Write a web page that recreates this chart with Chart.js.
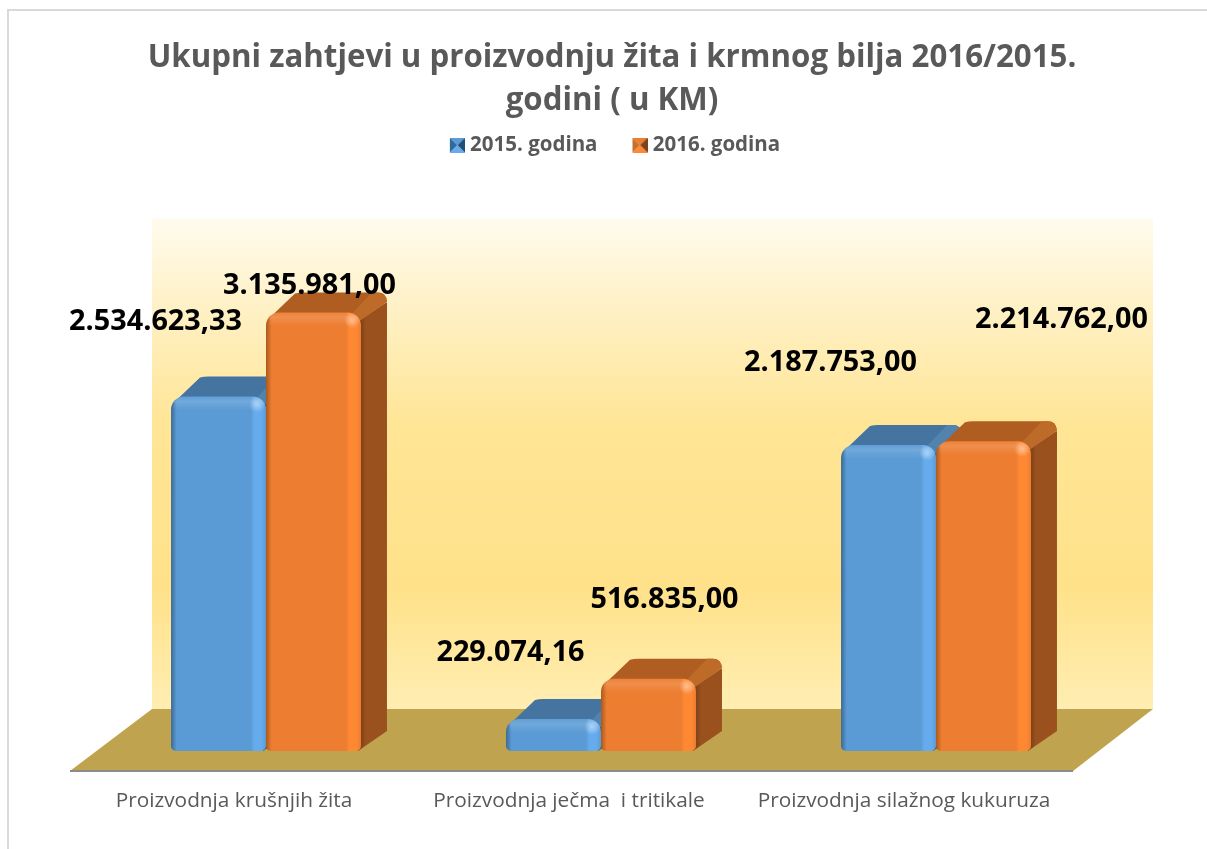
<!DOCTYPE html>
<html>
<head>
<meta charset="utf-8">
<script src="https://cdn.jsdelivr.net/npm/chart.js@4"></script>
<style>html,body{margin:0;padding:0;background:#fff;overflow:hidden}canvas{display:block}</style>
</head>
<body>
<canvas id="c" width="1207" height="849"></canvas>
<script>
const categories = ["Proizvodnja krušnjih žita", "Proizvodnja ječma  i tritikale", "Proizvodnja silažnog kukuruza"];
const seriesNames = ["2015. godina", "2016. godina"];
const values2015 = [2534623.33, 229074.16, 2187753.00];
const values2016 = [3135981.00, 516835.00, 2214762.00];
const titleLines = ["Ukupni zahtjevi u proizvodnju žita i krmnog bilja 2016/2015.", "godini ( u KM)"];

const FONT = '"Open Sans", sans-serif';
const GREY = '#595959';
const DEPTH = {dx: 26, dy: 20};
const labelOffsets = [
  [[-63, -75], [-43, -66], [-58, -82]],
  [[-4, -27], [16, -79], [78, -121]]
];
const palette = [
  {edge:'#3A6A96', base:'#5B9BD5', hi:'#66ACEC', top:'#44749F', side:'#345F88', sideDark:'#284C6E', chamfer:'#5283AE', mk:'#2F6A9E', mkDark:'#1F4E79'},
  {edge:'#A9591F', base:'#ED7D31', hi:'#FF8833', top:'#B05D22', side:'#9A511E', sideDark:'#7A4016', chamfer:'#BE6A28', mk:'#C8702A', mkDark:'#7F4317'}
];

function fmt(v){
  const [a,b] = v.toFixed(2).split('.');
  return a.replace(/\B(?=(\d{3})+$)/g,'.') + ',' + b;
}
function marker(p){
  const c = document.createElement('canvas'); c.width = 20; c.height = 15;
  const g = c.getContext('2d'), s = 15, m = 7.5;
  g.translate(5,0);
  const tri = (pts,col)=>{g.fillStyle=col;g.beginPath();pts.forEach((q,i)=>i?g.lineTo(q[0],q[1]):g.moveTo(q[0],q[1]));g.closePath();g.fill();};
  tri([[0,0],[s,0],[m,m]],p.base);
  tri([[0,0],[0,s],[m,m]],p.mk);
  tri([[s,0],[s,s],[m,m]],p.mkDark);
  tri([[0,s],[s,s],[m,m]],p.hi);
  return c;
}
const markers = palette.map(marker);

function frontFill(i){
  return function(ctx){
    const p = palette[i];
    if (ctx.type !== 'data') return p.base;
    const sx = ctx.chart.scales.x;
    if (!sx || !isFinite(sx.width) || !sx.width) return p.base;
    const w = sx.width / categories.length * 0.567 / 2;
    const gc = sx.getPixelForValue(ctx.dataIndex);
    const x0 = i === 0 ? gc - w : gc, x1 = x0 + w;
    const g = ctx.chart.ctx.createLinearGradient(x0, 0, x1, 0);
    g.addColorStop(0, p.edge);
    g.addColorStop(0.06, p.base);
    g.addColorStop(0.84, p.base);
    g.addColorStop(0.88, p.hi);
    g.addColorStop(0.95, p.hi);
    g.addColorStop(1, p.base);
    return g;
  };
}

function extrude(chart, index){
  const {ctx} = chart, p = palette[index], {dx,dy} = DEPTH;
  ctx.save();
  chart.getDatasetMeta(index).data.forEach(el=>{
    const {x,y,base,width} = el.getProps(['x','y','base','width'], true);
    const x0 = x - width/2, x1 = x + width/2, by = y - dy;
    ctx.fillStyle = p.top;
    ctx.beginPath();
    ctx.moveTo(x0+2, y+12);
    ctx.lineTo(x0+6, y+3);
    ctx.lineTo(x0+29, by+1);
    ctx.quadraticCurveTo(x0+33, by, x0+37, by);
    ctx.lineTo(x1+dx-9, by);
    ctx.quadraticCurveTo(x1+dx-1, by, x1+dx, by+9);
    ctx.lineTo(x1-4, y+10);
    ctx.closePath(); ctx.fill();

    const g = ctx.createLinearGradient(x1-1, 0, x1+5, 0);
    g.addColorStop(0, p.sideDark);
    g.addColorStop(1, p.side);
    ctx.fillStyle = g;
    ctx.beginPath();
    ctx.moveTo(x1-3, y+9);
    ctx.lineTo(x1+dx-1, by+10);
    ctx.lineTo(x1+dx, by+10);
    ctx.lineTo(x1+dx, base-dy);
    ctx.lineTo(x1-3, base);
    ctx.closePath(); ctx.fill();

    ctx.fillStyle = p.chamfer;
    ctx.beginPath();
    ctx.moveTo(x1-10, y+2);
    ctx.lineTo(x1+dx-15, by);
    ctx.lineTo(x1+dx-9, by);
    ctx.quadraticCurveTo(x1+dx-1, by, x1+dx, by+9);
    ctx.lineTo(x1-2, y+9);
    ctx.closePath(); ctx.fill();
  });
  ctx.restore();
}
function bevel(chart, index){
  const {ctx} = chart;
  ctx.save();
  chart.getDatasetMeta(index).data.forEach(el=>{
    const {x,y,base,width} = el.getProps(['x','y','base','width'], true);
    const x0 = x - width/2, x1 = x + width/2;
    ctx.save();
    ctx.beginPath();
    ctx.roundRect(x0, y, width, base-y, [13,13,5,5]);
    ctx.clip();
    const g = ctx.createLinearGradient(0, y, 0, y+14);
    g.addColorStop(0, 'rgba(255,255,255,0.03)');
    g.addColorStop(0.35, 'rgba(255,255,255,0.14)');
    g.addColorStop(0.6, 'rgba(255,255,255,0.08)');
    g.addColorStop(1, 'rgba(255,255,255,0)');
    ctx.fillStyle = g;
    ctx.fillRect(x0+3, y, width-3, 14);
    const r = ctx.createRadialGradient(x1-9, y+8, 0, x1-9, y+8, 8);
    r.addColorStop(0, 'rgba(255,255,255,0.4)');
    r.addColorStop(1, 'rgba(255,255,255,0)');
    ctx.fillStyle = r;
    ctx.fillRect(x1-17, y, 16, 16);
    ctx.restore();
  });
  ctx.restore();
}

const scene = {
  id: 'scene',
  beforeDraw(chart){
    const {ctx, width, height} = chart;
    ctx.save();
    ctx.fillStyle = '#fff'; ctx.fillRect(0,0,width,height);
    ctx.strokeStyle = '#D9D9D9'; ctx.lineWidth = 2;
    ctx.beginPath(); ctx.moveTo(width,10); ctx.lineTo(8,10); ctx.lineTo(8,height); ctx.stroke();
    ctx.restore();
  },
  afterLayout(chart){
    chart.titleBlock.left += 11; chart.titleBlock.right += 11;
    chart.legend.left += 14; chart.legend.right += 14;
    chart.legend.top -= 54; chart.legend.bottom -= 54;
  },
  beforeDatasetsDraw(chart){
    const {ctx, chartArea:a, scales:{y}} = chart;
    const zero = y.getPixelForValue(0);
    const wallL = a.left + 53.5, wallR = a.right + 49.5, wallT = a.top - 1, wallB = zero - 42;
    const fl = a.left - 28.5, fr = a.right - 30.5, fy = zero + 20;
    ctx.save();
    const g = ctx.createLinearGradient(0, wallT, 0, wallB);
    g.addColorStop(0, '#FFFBEE');
    g.addColorStop(0.18, '#FFF1C6');
    g.addColorStop(0.42, '#FFE596');
    g.addColorStop(0.75, '#FFE189');
    g.addColorStop(1, '#FFEDB2');
    ctx.fillStyle = g; ctx.fillRect(wallL, wallT, wallR - wallL, wallB - wallT);
    ctx.fillStyle = '#BFA34E';
    ctx.beginPath(); ctx.moveTo(fl,fy); ctx.lineTo(wallL,wallB); ctx.lineTo(wallR,wallB); ctx.lineTo(fr,fy); ctx.closePath(); ctx.fill();
    ctx.strokeStyle = '#8C8C8C'; ctx.lineWidth = 2;
    ctx.beginPath(); ctx.moveTo(fl,fy); ctx.lineTo(fr,fy); ctx.stroke();
    ctx.restore();
    [0,1].forEach(i=>{
      extrude(chart, i);
      chart.getDatasetMeta(i).controller.draw();
      bevel(chart, i);
    });
    return false;
  },
  afterDraw(chart){
    const {ctx} = chart;
    ctx.save();
    ctx.font = 'bold 28.8px ' + FONT;
    ctx.fillStyle = '#000';
    ctx.textAlign = 'center';
    ctx.textBaseline = 'middle';
    [0,1].forEach(d=>{
      chart.getDatasetMeta(d).data.forEach((el,i)=>{
        const {x,y} = el.getProps(['x','y'], true);
        const o = labelOffsets[d][i];
        ctx.fillText(fmt(chart.data.datasets[d].data[i]), x+o[0], y+o[1]);
      });
    });
    ctx.restore();
  }
};

new Chart(document.getElementById('c'), {
  type: 'bar',
  data: {
    labels: categories,
    datasets: [
      {label: seriesNames[0], data: values2015, backgroundColor: frontFill(0)},
      {label: seriesNames[1], data: values2016, backgroundColor: frontFill(1)}
    ]
  },
  options: {
    responsive: false,
    animation: false,
    layout: {padding: {left: 98.5, right: 103.5, top: 0, bottom: 0}},
    datasets: {bar: {
      barPercentage: 1, categoryPercentage: 0.567,
      borderWidth: 0, borderSkipped: false,
      borderRadius: {topLeft: 13, topRight: 13, bottomLeft: 5, bottomRight: 5}
    }},
    plugins: {
      tooltip: {enabled: false},
      title: {
        display: true, text: titleLines, color: GREY,
        font: {family: FONT, size: 31.25, weight: 'bold', lineHeight: 43.5/31.25},
        padding: {top: 36, bottom: 31}
      },
      legend: {
        display: true, position: 'top',
        labels: {
          usePointStyle: true, boxWidth: 10, boxHeight: 15, padding: 35, color: GREY,
          font: {family: FONT, size: 20.5, weight: 'bold'},
          generateLabels: () => seriesNames.map((n,i)=>({
            text: n, datasetIndex: i, pointStyle: markers[i], fontColor: GREY,
            fillStyle: palette[i].base, strokeStyle: palette[i].base, lineWidth: 0
          }))
        }
      }
    },
    scales: {
      x: {
        grid: {display: false, drawTicks: false}, border: {display: false},
        afterFit: s => { s.height = 98; },
        ticks: {color: GREY, font: {family: FONT, size: 20.8}, padding: 38, labelOffset: -32, maxRotation: 0, autoSkip: false}
      },
      y: {display: false, min: 0, max: 3800000}
    }
  },
  plugins: [scene]
});
</script>
</body>
</html>
